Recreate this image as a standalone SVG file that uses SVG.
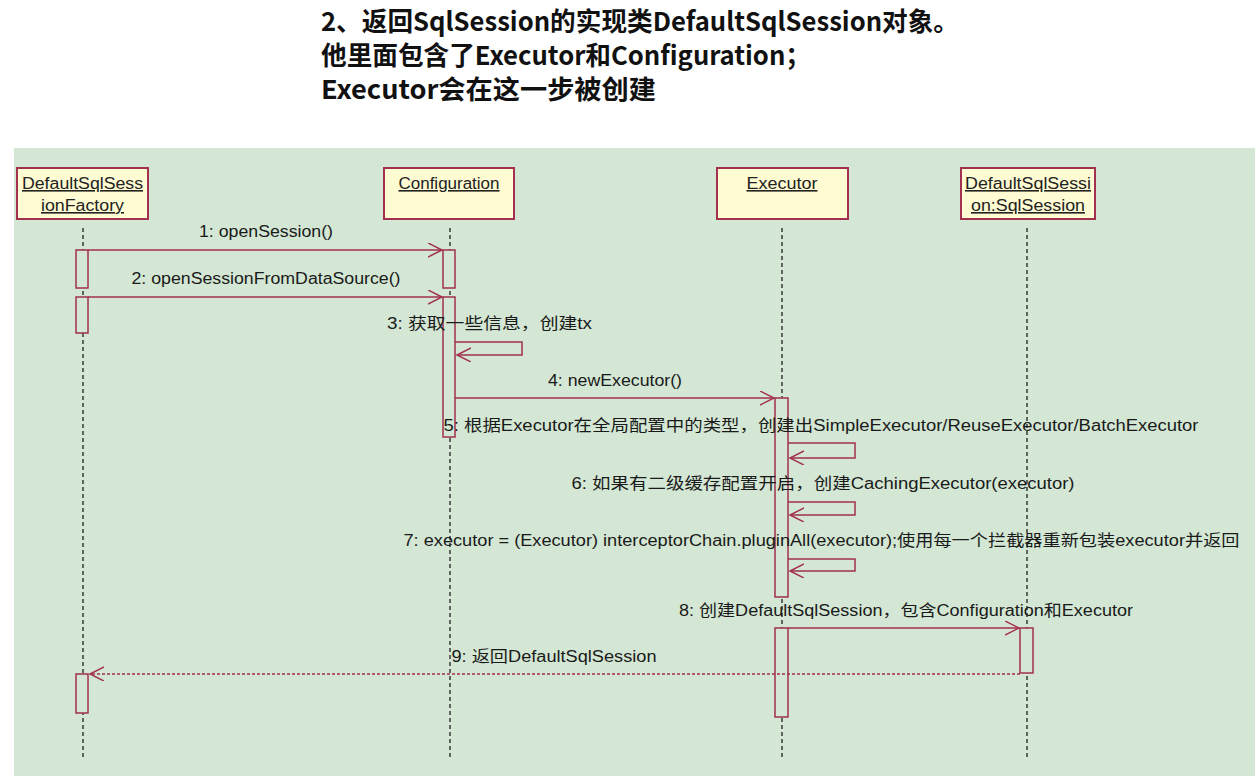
<svg xmlns="http://www.w3.org/2000/svg" width="1258" height="776" viewBox="0 0 1258 776">
<style>
.title{font-family:"Noto Sans CJK SC","Noto Sans",sans-serif;font-size:26px;font-weight:bold;fill:#111}
.box{fill:#fffbd2;stroke:#a3304f;stroke-width:2}
.nl{font-family:"Liberation Sans","Noto Sans CJK SC",sans-serif;font-size:16px;fill:#222;text-anchor:middle;text-decoration:underline}
.life{stroke:#3a3a3a;stroke-width:1.5;stroke-dasharray:4 3;fill:none}
.act{fill:#d3e7d4;stroke:#a3304f;stroke-width:1.5}
.msg{stroke:#a3304f;stroke-width:1.5;fill:none}
.ret{stroke:#a3304f;stroke-width:1.5;fill:none;stroke-dasharray:3 2}
.ml{font-family:"Liberation Sans","Noto Sans CJK SC",sans-serif;font-size:16px;fill:#1a1a1a;text-anchor:middle}
</style>
<defs>
<marker id="open" markerUnits="userSpaceOnUse" viewBox="0 0 16 16" markerWidth="16" markerHeight="16" refX="14" refY="7" orient="auto">
<path d="M0,0 L14,7 L0,14" fill="none" stroke="#a3304f" stroke-width="1.5"/>
</marker>
</defs>
<rect width="1258" height="776" fill="#ffffff"/>
<text class="title" x="321" y="31" textLength="638" lengthAdjust="spacingAndGlyphs">2、返回SqlSession的实现类DefaultSqlSession对象。</text>
<text class="title" x="321" y="65" textLength="490" lengthAdjust="spacingAndGlyphs">他里面包含了Executor和Configuration；</text>
<text class="title" x="321" y="99" textLength="335" lengthAdjust="spacingAndGlyphs">Executor会在这一步被创建</text>
<rect x="14" y="148" width="1241" height="628" fill="#d3e7d4"/>
<g id="lifelines">
<line class="life" x1="83" y1="228" x2="83" y2="757"/>
<line class="life" x1="450" y1="228" x2="450" y2="757"/>
<line class="life" x1="782" y1="228" x2="782" y2="757"/>
<line class="life" x1="1027" y1="228" x2="1027" y2="757"/>
</g>
<g id="factory">
<rect class="box" x="17" y="168" width="131" height="51"/>
<text class="nl" x="82.5" y="189" textLength="121" lengthAdjust="spacingAndGlyphs">DefaultSqlSess</text>
<text class="nl" x="82.5" y="211" textLength="83" lengthAdjust="spacingAndGlyphs">ionFactory</text>
<rect class="act" x="76" y="250" width="12" height="38"/>
<rect class="act" x="76" y="297" width="12" height="36"/>
<rect class="act" x="76" y="674" width="12" height="39"/>
</g>
<g id="configuration">
<rect class="box" x="384" y="168" width="130" height="51"/>
<text class="nl" x="449" y="189" textLength="101" lengthAdjust="spacingAndGlyphs">Configuration</text>
<rect class="act" x="443" y="250" width="12" height="38"/>
<rect class="act" x="443" y="297" width="12" height="140"/>
</g>
<g id="executor">
<rect class="box" x="717" y="168" width="131" height="51"/>
<text class="nl" x="782" y="189" textLength="71" lengthAdjust="spacingAndGlyphs">Executor</text>
<rect class="act" x="775" y="398" width="13" height="199"/>
<rect class="act" x="775" y="628" width="13" height="89"/>
</g>
<g id="sqlsession">
<rect class="box" x="961" y="168" width="134" height="51"/>
<text class="nl" x="1028" y="189" textLength="126" lengthAdjust="spacingAndGlyphs">DefaultSqlSessi</text>
<text class="nl" x="1028" y="211" textLength="114" lengthAdjust="spacingAndGlyphs">on:SqlSession</text>
<rect class="act" x="1020" y="628" width="13" height="45"/>
</g>
<g id="connectors">
<line class="msg" x1="88" y1="250" x2="442" y2="250" marker-end="url(#open)"/>
<line class="msg" x1="88" y1="297" x2="442" y2="297" marker-end="url(#open)"/>
<polyline class="msg" points="455,342 522,342 522,355 457,355" marker-end="url(#open)"/>
<line class="msg" x1="455" y1="398" x2="774" y2="398" marker-end="url(#open)"/>
<polyline class="msg" points="788,443 855,443 855,458 790,458" marker-end="url(#open)"/>
<polyline class="msg" points="788,502 855,502 855,515 790,515" marker-end="url(#open)"/>
<polyline class="msg" points="788,559 855,559 855,571 790,571" marker-end="url(#open)"/>
<line class="msg" x1="788" y1="628" x2="1019" y2="628" marker-end="url(#open)"/>
<line class="ret" x1="1020" y1="674" x2="90" y2="674" marker-end="url(#open)"/>
</g>
<g id="labels">
<text class="ml" x="266" y="237" textLength="134" lengthAdjust="spacingAndGlyphs">1: openSession()</text>
<text class="ml" x="266" y="284" textLength="269" lengthAdjust="spacingAndGlyphs">2: openSessionFromDataSource()</text>
<text class="ml" x="489.5" y="329" textLength="205" lengthAdjust="spacingAndGlyphs">3: 获取一些信息，创建tx</text>
<text class="ml" x="615" y="386" textLength="134" lengthAdjust="spacingAndGlyphs">4: newExecutor()</text>
<text class="ml" x="821" y="431" textLength="755" lengthAdjust="spacingAndGlyphs">5: 根据Executor在全局配置中的类型，创建出SimpleExecutor/ReuseExecutor/BatchExecutor</text>
<text class="ml" x="823" y="489" textLength="503" lengthAdjust="spacingAndGlyphs">6: 如果有二级缓存配置开启，创建CachingExecutor(executor)</text>
<text class="ml" x="821.5" y="546" textLength="836" lengthAdjust="spacingAndGlyphs">7: executor = (Executor) interceptorChain.pluginAll(executor);使用每一个拦截器重新包装executor并返回</text>
<text class="ml" x="906" y="616" textLength="454" lengthAdjust="spacingAndGlyphs">8: 创建DefaultSqlSession，包含Configuration和Executor</text>
<text class="ml" x="554" y="662" textLength="205" lengthAdjust="spacingAndGlyphs">9: 返回DefaultSqlSession</text>
</g>
</svg>
